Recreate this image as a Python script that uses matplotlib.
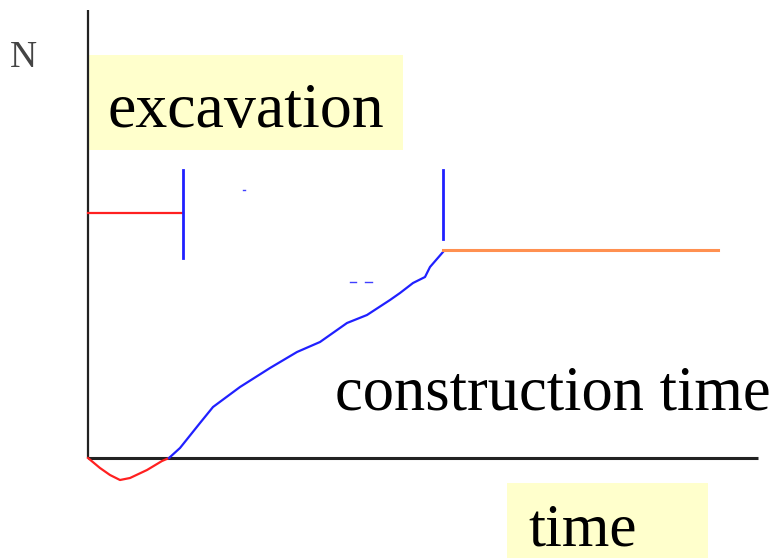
import matplotlib
matplotlib.use("Agg")
import matplotlib.pyplot as plt
from matplotlib.patches import Rectangle

# ---- data (time units, N units) ----
excavation_t = [0, 95]
excavation_N = [245, 245]

dip_t = [0, 12, 22, 32, 42, 59, 74, 81]
dip_N = [0, -10, -17, -22, -20, -12, -3, 0]

constr_t = [81, 92, 112, 125, 152, 182, 209, 232, 259, 279, 302, 312, 325, 337, 342, 355]
constr_N = [0, 10, 35, 51, 71, 90, 106, 116, 135, 143, 158, 165, 175, 181, 191, 206]

after_t = [355, 630]
after_N = [208, 208]

tick1_t, tick1_N = [95, 95], [200, 288]
tick2_t, tick2_N = [355, 355], [219, 288]

# small stray marks visible in the original
stray_t = [[155, 157], [262, 268], [277, 284]]
stray_N = [[268, 268], [176, 176], [176, 176]]

xaxis_t, xaxis_N = [0, 670], [0, 0]
yaxis_t, yaxis_N = [0, 0], [0, 448]

fig = plt.figure(figsize=(7.82, 5.58), dpi=100)
ax = fig.add_axes([0, 0, 1, 1])
ax.set_xlim(-88, 694)
ax.set_ylim(-100, 458)
ax.axis("off")

# annotation boxes
ax.add_patch(Rectangle((0, 308), 315, 95, facecolor="#FFFFCC", edgecolor="none", zorder=0))
ax.add_patch(Rectangle((419, -100), 201, 75, facecolor="#FFFFCC", edgecolor="none", zorder=0))

# axes
ax.plot(xaxis_t, xaxis_N, color="#222222", lw=2.2, solid_capstyle="butt", zorder=2)
ax.plot(yaxis_t, yaxis_N, color="#222222", lw=1.6, solid_capstyle="butt", zorder=2)

# curves
ax.plot(excavation_t, excavation_N, color="#FF2020", lw=1.6, zorder=3)
ax.plot(dip_t, dip_N, color="#FF2020", lw=1.6, zorder=3)
ax.plot(constr_t, constr_N, color="#2020FF", lw=1.6, zorder=3)
ax.plot(after_t, after_N, color="#FF9050", lw=2.2, zorder=3)
ax.plot(tick1_t, tick1_N, color="#2020FF", lw=2.0, zorder=3)
ax.plot(tick2_t, tick2_N, color="#2020FF", lw=2.0, zorder=3)
for st, sn in zip(stray_t, stray_N):
    ax.plot(st, sn, color="#4040FF", lw=1.0, zorder=3)

serif = "Liberation Serif"
ax.text(-78, 400, "N", fontsize=27, family=serif, color="#444444", va="center", ha="left")
ax.text(19, 331, "excavation", fontsize=46, family=serif, color="black", va="baseline", ha="left")
ax.text(247, 48, "construction time", fontsize=45, family=serif, color="black", va="baseline", ha="left")
ax.text(440, -88, "time", fontsize=44, family=serif, color="black", va="baseline", ha="left")

fig.savefig("out.png", dpi=100)
